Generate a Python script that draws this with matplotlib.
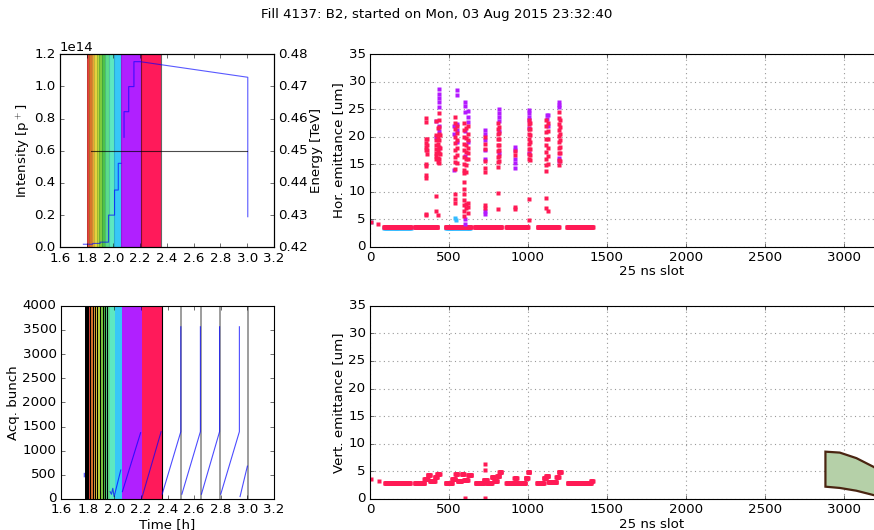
import numpy as np
import matplotlib
matplotlib.use('Agg')
import matplotlib.pyplot as plt
from matplotlib.patches import Polygon

plt.style.use('classic')
plt.rcParams['font.size'] = 12
plt.rcParams['font.family'] = 'DejaVu Sans'

nan = np.nan

# injection windows (time in h) and their colours
span_start = [1.800, 1.819, 1.839, 1.856, 1.874, 1.894, 1.914, 1.934, 1.969, 2.004, 2.056, 2.206]
span_end = [1.819, 1.839, 1.856, 1.874, 1.894, 1.914, 1.934, 1.969, 2.004, 2.056, 2.206, 2.357]
span_colors = ['#e8453c', '#d9762e', '#eda83a', '#e6d43f', '#bcd83a', '#7fcc3f',
               '#4fc44a', '#5bdc8c', '#5de8c0', '#37c8f6', '#b020ff', '#ff1a5a']

# beam intensity [1e14 p] and energy [TeV]
int_t = [1.775, 1.845, 1.845, 1.90, 1.90, 1.963, 1.963, 2.008, 2.008, 2.036, 2.036, 2.056, nan,
         2.079, 2.079, 2.114, 2.114, 2.153, 2.153, 2.20, 3.004, 3.004]
int_v = [0.019, 0.019, 0.024, 0.024, 0.032, 0.032, 0.20, 0.20, 0.356, 0.356, 0.522, 0.522, nan,
         0.684, 0.843, 0.843, 0.999, 0.999, 1.154, 1.154, 1.057, 0.19]
en_t = [1.829, 3.0]
en_v = [0.45, 0.45]

# acquired bunch vs time
acq_t = [1.775, 1.775, nan, 1.969, 1.979, 1.989, 1.999, 2.049, nan, 2.061, 2.198, nan,
         2.205, 2.352, nan, 2.360, 2.500, 2.500, nan, 2.508, 2.647, 2.647, nan,
         2.655, 2.791, 2.791, nan, 2.800, 2.940, 2.940, nan, 2.945, 3.000]
acq_b = [460, 530, nan, 151, 97, 221, 48, 600, nan, 152, 1372, nan,
         0, 1393, nan, 100, 1393, 3564, nan, 100, 1393, 3564, nan,
         100, 1393, 3564, nan, 100, 1393, 3564, nan, 50, 680]
scan_dark = [1.804, 1.819, 1.839, 1.859, 1.874, 1.894, 1.914, 1.931, 1.949, 2.357]
scan_gray = [2.502, 2.652, 2.796, 3.003]

# horizontal emittance: columns of points (slot, values)
hor_red_x = [352, 362, 417, 428, 438, 445, 540, 550, 595, 605, 620, 726, 808, 820, 920,
             1005, 1015, 1115, 1128, 1195, 1205]
hor_red_y = [[23.3, 22.6, 19.6, 18.8, 18.2, 17.5, 15.0, 14.6, 13.0, 12.5, 6.0, 5.7],
             [19.5, 18.5, 17.6, 16.8],
             [22.8, 20.2, 19.3, 18.5, 17.8, 17.0, 16.4, 15.9, 9.3, 6.5],
             [21.5, 19.8, 18.6, 17.5, 16.2, 15.4, 5.8],
             [24.3, 23.0, 21.8, 20.5, 19.4, 18.2, 17.1, 16.0, 15.2],
             [20.3, 18.0, 16.8],
             [23.6, 22.5, 21.3, 20.0, 18.8, 17.5, 16.3, 15.4, 14.2, 9.5, 8.7, 8.0],
             [22.0, 20.6, 19.4, 18.0, 16.7, 15.2],
             [22.4, 21.2, 20.0, 18.7, 17.5, 16.3, 15.1, 14.0, 13.3, 11.8, 10.5, 9.5, 8.5, 7.5, 6.5, 5.5],
             [21.5, 19.8, 18.5, 17.2, 16.0, 14.8, 13.6, 7.8, 7.0],
             [22.0, 20.5, 19.3, 18.0, 17.0, 16.0, 8.0, 7.2, 6.2],
             [20.0, 18.7, 17.8, 15.5, 14.3, 13.6, 7.6, 7.0],
             [22.4, 21.3, 20.4, 19.5, 18.5, 17.4, 16.3, 15.3, 14.4, 9.7, 6.8],
             [21.8, 20.6, 19.6, 18.4, 17.5, 16.5, 15.5],
             [17.3, 16.7, 7.3, 6.9],
             [23.0, 22.2, 21.3, 20.4, 19.5, 18.6, 17.7, 16.8, 16.0, 8.6, 4.9],
             [22.5, 21.3, 20.2, 19.0, 17.8, 16.6, 15.8],
             [23.0, 22.0, 20.8, 19.6, 18.5, 17.2, 16.0, 14.8, 13.8, 8.8, 7.0],
             [22.5, 21.0, 19.5, 18.0, 16.5, 15.0, 6.5],
             [24.5, 23.4, 22.3, 21.2, 20.1, 19.0, 18.0, 17.0, 15.8, 14.8],
             [23.0, 21.8, 20.5, 19.3, 18.2, 17.0, 15.5]]
hor_pur_x = [420, 440, 535, 550, 600, 622, 728, 815, 920, 1010, 1118, 1130, 1200]
hor_pur_y = [[22.8, 20.0],
             [28.6, 27.8, 27.0, 26.2, 25.3, 22.0, 21.0, 18.0],
             [22.0, 20.5, 14.0],
             [28.4, 27.5, 22.3, 21.2, 19.0],
             [26.2, 25.5, 24.5, 21.0, 16.5, 5.0, 4.2],
             [24.7, 23.5, 22.7, 19.0],
             [21.2, 20.4, 19.3, 17.6, 16.0, 6.5, 6.0],
             [25.0, 24.3, 23.5, 22.8, 21.0, 17.0],
             [18.2, 17.6, 16.0, 15.2, 14.3],
             [24.8, 24.2, 23.6, 23.0, 21.5, 17.0],
             [23.9, 23.2],
             [23.9, 22.0],
             [26.3, 25.8, 25.3, 16.2, 15.5]]
hor_cyan_x = [540, 543, 6]
hor_cyan_y = [5.3, 4.8, 4.4]

# bunch trains (first slot, last slot, emittance level)
hor_train_start = [90, 284, 480, 663, 863, 1063, 1248]
hor_train_end = [259, 427, 638, 832, 1000, 1196, 1410]
hor_train_level = [3.6, 3.6, 3.6, 3.6, 3.6, 3.6, 3.6]
hor_single_x = [6, 53]
hor_single_y = [4.4, 4.2]

ver_seg_start = [95, 284, 345, 365, 380, 410, 425, 480, 520, 540, 555, 580, 595, 620,
                 669, 720, 740, 770, 785, 805, 820, 863, 915, 930, 985, 1000,
                 1057, 1100, 1115, 1130, 1180, 1195, 1253, 1400]
ver_seg_end = [253, 345, 365, 380, 410, 425, 442, 520, 540, 555, 580, 595, 620, 642,
               720, 740, 770, 785, 805, 820, 832, 915, 930, 985, 1000, 1010,
               1100, 1115, 1130, 1180, 1195, 1210, 1400, 1410]
ver_seg_level = [2.85, 2.85, 3.6, 4.4, 3.2, 3.9, 4.5, 2.85, 3.6, 4.5, 3.3, 4.5, 3.4, 4.4,
                 2.85, 3.4, 2.9, 3.9, 3.2, 4.2, 4.8, 2.85, 3.8, 2.9, 3.8, 4.8,
                 2.85, 3.8, 4.2, 3.0, 4.0, 4.9, 2.9, 3.2]
ver_single_x = [4, 59, 730, 730, 600, 730]
ver_single_y = [3.6, 3.3, 6.3, 5.3, 0.1, 0.1]

# shape in the lower right corner
shape_x = [2884, 2975, 3080, 3190, 3240, 3240, 3190, 3080, 2975, 2884]
shape_y = [8.57, 8.4, 7.4, 5.8, 4.8, 0.3, 0.7, 1.5, 2.0, 2.23]

RED = '#ff1a55'
PUR = '#b31aff'
CYAN = '#33bbff'

fig = plt.figure(figsize=(874 / 80, 530 / 80), dpi=80, facecolor='white')
fig.suptitle('Fill 4137: B2, started on Mon, 03 Aug 2015 23:32:40', y=0.985, fontsize=12)

ax1 = fig.add_axes([0.0686, 0.5334, 0.2449, 0.3642])
ax2 = fig.add_axes([0.0698, 0.0585, 0.2437, 0.3647])
ax3 = fig.add_axes([0.4233, 0.5345, 0.644, 0.3636])
ax4 = fig.add_axes([0.4233, 0.0585, 0.644, 0.3647])

# intensity / energy
for s, e, c in zip(span_start, span_end, span_colors):
    ax1.axvspan(s, e, color=c, lw=0)
    ax2.axvspan(s, e, color=c, lw=0)
for t in span_start:
    ax1.axvline(t, color='k', alpha=0.15, lw=1)
ax1.axvline(2.206, color='k', alpha=0.4, lw=1)
ax1.axvline(2.357, color='k', alpha=0.6, lw=1)
ax1.plot(int_t, np.array(int_v) * 1e14, color='b', alpha=0.65, lw=1)
ax1.set_xlim(1.6, 3.2)
ax1.set_ylim(0, 1.2e14)
ax1.set_ylabel('Intensity [p$^+$]', labelpad=2)
ax1e = ax1.twinx()
ax1e.plot(en_t, en_v, color='k', alpha=0.7, lw=1)
ax1e.set_ylim(0.42, 0.48)
ax1e.set_ylabel('Energy [TeV]', labelpad=2)

# acquired bunch
ax2.axvspan(1.783, 1.800, color='k', lw=0)
for t in scan_dark:
    ax2.axvline(t, color='k', lw=1)
for t in scan_gray:
    ax2.axvline(t, color='k', alpha=0.45, lw=1.5)
ax2.plot(acq_t, acq_b, color='b', alpha=0.7, lw=1)
ax2.set_xlim(1.6, 3.2)
ax2.set_ylim(0, 4000)
ax2.set_xlabel('Time [h]', labelpad=1)
ax2.set_ylabel('Acq. bunch', labelpad=2)

mk = dict(ls='none', marker='s', ms=3.6, mec='none')

# horizontal emittance
for s, e, lv in zip(hor_train_start, hor_train_end, hor_train_level):
    sl = np.arange(s, e + 1, 2)
    if s in (90, 480):
        ax3.plot(sl[::3], np.full(len(sl[::3]), lv - 0.2), color=CYAN, **mk)
    ax3.plot(sl, np.full(len(sl), lv), color=RED, **mk)
ax3.plot(hor_cyan_x, hor_cyan_y, color=CYAN, **mk)
for x, ys in zip(hor_pur_x, hor_pur_y):
    ax3.plot([x] * len(ys), ys, color=PUR, **mk)
for x, ys in zip(hor_red_x, hor_red_y):
    ax3.plot([x] * len(ys), ys, color=RED, **mk)
ax3.plot(hor_single_x, hor_single_y, color=RED, **mk)
ax3.set_ylabel('Hor. emittance [um]', labelpad=3)

# vertical emittance
for s, e, lv in zip(ver_seg_start, ver_seg_end, ver_seg_level):
    sl = np.arange(s, e + 1, 2)
    ax4.plot(sl, np.full(len(sl), lv), color=RED, **mk)
ax4.plot(ver_single_x, ver_single_y, color=RED, **mk)
ax4.add_patch(Polygon(list(zip(shape_x, shape_y)), closed=True, fc='#b5d0a8',
                      ec='#4a2511', lw=2, zorder=3))
ax4.set_ylabel('Vert. emittance [um]', labelpad=3)

for ax in (ax3, ax4):
    ax.set_xlim(0, 3564)
    ax.set_ylim(0, 35)
    ax.set_xticks(np.arange(0, 3001, 500))
    ax.set_yticks(np.arange(0, 36, 5))
    ax.set_axisbelow(True)
    ax.grid(True, color='0.6', ls=':', lw=1)
    ax.set_xlabel('25 ns slot', labelpad=1)

fig.savefig('out.png', dpi=80, facecolor='white')
